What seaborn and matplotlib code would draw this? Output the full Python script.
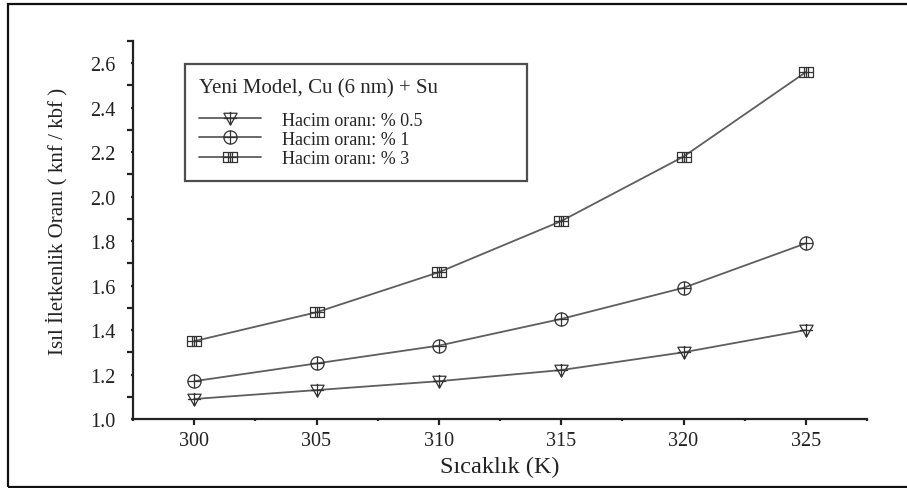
import numpy as np
import pandas as pd
import matplotlib
matplotlib.use("Agg")
import matplotlib.pyplot as plt
from matplotlib.path import Path
from matplotlib.lines import Line2D
from matplotlib.patches import Rectangle
from matplotlib.ticker import FixedLocator
import seaborn as sns

# --- data -------------------------------------------------------------
sicaklik = [300, 305, 310, 315, 320, 325]
oran_05 = [1.09, 1.13, 1.17, 1.22, 1.30, 1.40]
oran_1 = [1.17, 1.25, 1.33, 1.45, 1.59, 1.79]
oran_3 = [1.35, 1.48, 1.66, 1.89, 2.18, 2.56]
seri_adlari = ["Hacim oranı: % 0.5", "Hacim oranı: % 1", "Hacim oranı: % 3"]
y_tick_values = [1.0, 1.2, 1.4, 1.6, 1.8, 2.0, 2.2, 2.4, 2.6]
x_tick_values = [300, 305, 310, 315, 320, 325]

df = pd.DataFrame({
    "T": sicaklik * 3,
    "oran": oran_05 + oran_1 + oran_3,
    "seri": sum([[s] * len(sicaklik) for s in seri_adlari], []),
})

# --- marker shapes: outline with a cross through the middle ----------
def _seg(a, b):
    return Path([a, b], [Path.MOVETO, Path.LINETO])

cross = [_seg((0, -1), (0, 1)), _seg((-1, 0), (1, 0))]
tri_down = Path([(-1, 0.8), (1, 0.8), (0, -1), (-1, 0.8)],
                [Path.MOVETO, Path.LINETO, Path.LINETO, Path.CLOSEPOLY])
circle = Path.unit_circle()
square = Path([(-1, -0.8), (1, -0.8), (1, 0.8), (-1, 0.8), (-1, -0.8)],
              [Path.MOVETO, Path.LINETO, Path.LINETO, Path.LINETO, Path.CLOSEPOLY])
square_cross = [_seg((0, -0.8), (0, 0.8)), _seg((-0.35, -0.8), (-0.35, 0.8)),
                _seg((0.35, -0.8), (0.35, 0.8)), _seg((-1, 0), (1, 0))]

m_tri = Path.make_compound_path(tri_down, *cross)
m_circ = Path.make_compound_path(circle, *cross)
m_sq = Path.make_compound_path(square, *square_cross)
markers = [m_tri, m_circ, m_sq]

# --- style ------------------------------------------------------------
sns.set_style("ticks")
plt.rcParams["font.family"] = ["Liberation Serif", "DejaVu Serif"]

line_color = "#5e5e5e"
mark_color = "#333333"
axis_color = "#222222"

fig = plt.figure(figsize=(9.07, 4.89), dpi=100)
ax = fig.add_axes([133 / 907, 69 / 489, (867 - 133) / 907, (420 - 42) / 489])

for seri, marker in zip(seri_adlari, markers):
    sub = df[df["seri"] == seri]
    sns.lineplot(data=sub, x="T", y="oran", ax=ax, color=line_color,
                 linewidth=1.3, marker=marker, markersize=9.5,
                 markerfacecolor="none", markeredgecolor=mark_color,
                 markeredgewidth=0.9, legend=False, errorbar=None)

ax.set_xlim(297.5, 327.5)
ax.set_ylim(1.0, 2.7)

# axes frame: only left and bottom
for side in ["top", "right"]:
    ax.spines[side].set_visible(False)
for side in ["left", "bottom"]:
    ax.spines[side].set_linewidth(1.6)
    ax.spines[side].set_color(axis_color)

ax.xaxis.set_major_locator(FixedLocator(x_tick_values))
ax.xaxis.set_minor_locator(FixedLocator([297.5, 302.5, 307.5, 312.5, 317.5, 322.5, 327.5]))
ax.yaxis.set_major_locator(FixedLocator(y_tick_values))
ax.yaxis.set_minor_locator(FixedLocator([1.1, 1.3, 1.5, 1.7, 1.9, 2.1, 2.3, 2.5, 2.7]))
ax.set_xticklabels([str(v) for v in x_tick_values])
ax.set_yticklabels([f"{v:.1f}" for v in y_tick_values])

ax.tick_params(axis="x", which="major", direction="out", length=4, width=1.6,
               pad=5, labelsize=14.5, colors=axis_color)
ax.tick_params(axis="x", which="minor", direction="out", length=1.5, width=1.6,
               colors=axis_color)
ax.tick_params(axis="y", which="major", direction="out", length=1.5, width=1.6,
               pad=11, labelsize=14.5, colors=axis_color)
ax.tick_params(axis="y", which="minor", direction="out", length=4, width=1.6,
               colors=axis_color)

ax.set_xlabel("Sıcaklık (K)", fontsize=17.5, labelpad=4, color=axis_color)
ax.set_ylabel("Isıl İletkenlik Oranı ( knf / kbf )", fontsize=15,
              color=axis_color)
ax.yaxis.set_label_coords(-0.089, 0.525)

# legend box spanning a fixed region of the figure
handles = [Line2D([], [], color=line_color, linewidth=1.3, marker=m,
                  markersize=9.5, markerfacecolor="none",
                  markeredgecolor=mark_color, markeredgewidth=0.9)
           for m in markers]
leg = ax.legend(handles, seri_adlari, title="Yeni Model, Cu (6 nm) + Su",
                loc="upper left",
                bbox_to_anchor=(185 / 907, 1 - 177 / 489, 342 / 907, 112 / 489),
                bbox_transform=fig.transFigure, mode="expand",
                frameon=True, fancybox=False,
                fontsize=13, title_fontsize=15, handlelength=3.4,
                handletextpad=1.2, labelspacing=0.12, borderpad=0.8,
                borderaxespad=0, alignment="left")
leg.get_frame().set_edgecolor(axis_color)
leg.get_frame().set_linewidth(1.6)
leg._legend_box.sep = 10

# outer frame around the whole figure
fig.patches.append(Rectangle((8 / 907, 1.5 / 489), 905 / 907, 483 / 489,
                             transform=fig.transFigure, fill=False,
                             edgecolor="#111111", linewidth=1.6))

fig.savefig("out.png", dpi=100)
